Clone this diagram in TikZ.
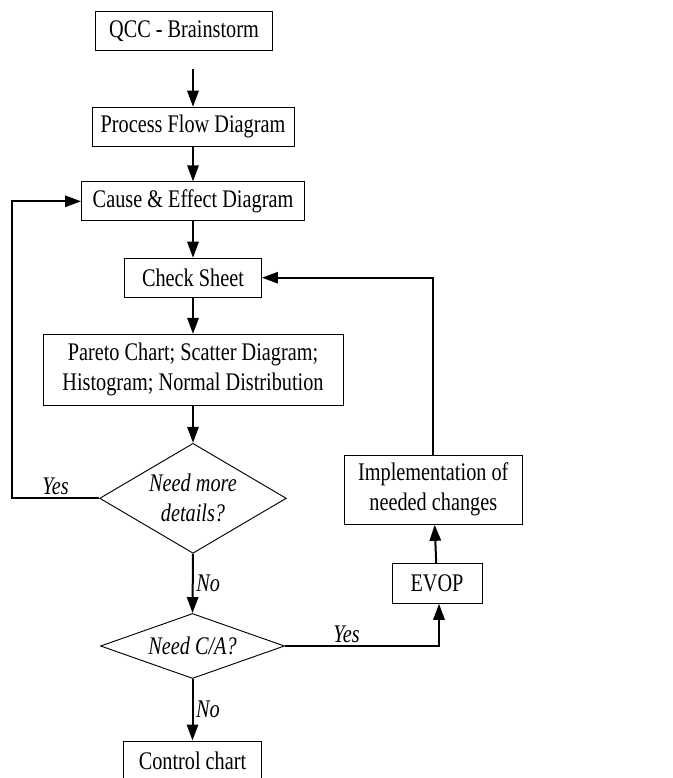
\documentclass[tikz,border=0pt]{standalone}
\usepackage{fontspec}
\setmainfont{Liberation Serif}[FakeStretch=0.8]
\usetikzlibrary{arrows.meta,shapes.geometric}
\tikzset{
  block/.style    ={draw,line width=0.7pt,align=center,inner sep=0pt,minimum height=29.25pt,
                    font=\fontsize{19pt}{22.5pt}\selectfont},
  decision/.style ={draw,diamond,line width=0.7pt,align=center,inner sep=0pt,
                    font=\fontsize{19pt}{22.5pt}\selectfont\itshape},
  arrow/.style    ={-{Triangle[length=12pt,width=8.5pt]},line width=1.5pt},
  answer/.style   ={font=\fontsize{19pt}{22.5pt}\selectfont\itshape,inner sep=2pt}
}
\begin{document}
\begin{tikzpicture}[x=0.75pt,y=-0.75pt]
    \useasboundingbox (0,0) rectangle (673,778);
    \node[block,minimum width=132.75pt] (qcc)    at (184,30.7)  {QCC - Brainstorm};
    \node[block,minimum width=151.5pt]  (pfd)    at (193,126.7) {Process Flow Diagram};
    \node[block,minimum width=167.25pt] (cause)  at (193,201.3) {Cause \& Effect Diagram};
    \node[block,minimum width=102.75pt] (check)  at (193,277.7) {Check Sheet};
    \node[block,minimum width=225pt,minimum height=53pt] (pareto) at (193,369.7)
         {Pareto Chart; Scatter Diagram;\\Histogram; Normal Distribution};
    \node[decision,minimum width=140pt,minimum height=82.5pt,aspect=1.7] (more) at (193,498.3)
         {Need more\\details?};
    \node[decision,minimum width=138pt,minimum height=48.75pt,aspect=2.8] (ca) at (192.5,646)
         {Need C/A?};
    \node[block,minimum width=103.7pt]  (ctrl)   at (192.5,760.5) {Control chart};
    \node[block,minimum width=67.5pt,minimum height=30pt] (evop) at (437,583.3) {EVOP};
    \node[block,minimum width=134pt,minimum height=52pt] (impl) at (433.3,489.7)
         {Implementation of\\needed changes};
    \coordinate (loop) at (12,498.3);
    \draw[arrow] ([yshift=-14pt]qcc.south -| pfd.north) -- (pfd.north);
    \draw[arrow] (pfd) -- (cause);
    \draw[arrow] (cause) -- (check);
    \draw[arrow] (check) -- (pareto);
    \draw[arrow] (pareto) -- (more);
    \draw[arrow] (more.west) -- node[answer,above] {Yes} (loop) |- (cause.west);
    \draw[arrow] (more.south) -- node[answer,right] {No} (ca.north);
    \draw[arrow] (ca.south) -- node[answer,right] {No} (ctrl.north);
    \draw[arrow] (ca.east) -- node[answer,above,pos=0.4] {Yes} ([xshift=1.5pt]evop.south |- ca.east)
                 -- ([xshift=1.5pt]evop.south);
    \draw[arrow] (evop) -- (impl);
    \draw[arrow] (impl.north) |- (check.east);
  \end{tikzpicture}
\end{document}
